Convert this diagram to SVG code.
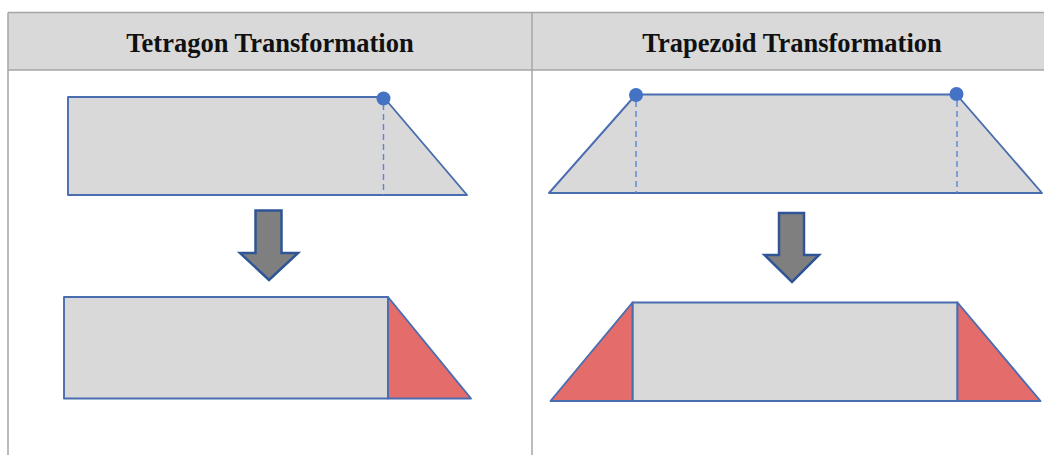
<svg xmlns="http://www.w3.org/2000/svg" width="1044" height="455" viewBox="0 0 1044 455">
  <style>
    .hdr { fill: #d9d9d9; }
    .grid { stroke: #a6a6a6; stroke-width: 1.5; fill: none; }
    .title { font-family: "Liberation Serif", "Times New Roman", serif; font-weight: bold; font-size: 26.5px; fill: #111; text-anchor: middle; }
    .shape { fill: #d9d9d9; stroke: #4a6db0; stroke-width: 1.9; stroke-linejoin: round; }
    .red { fill: #e46c6a; stroke: #4a6db0; stroke-width: 1.9; stroke-linejoin: round; }
    .dash { stroke: #5b87d6; stroke-width: 1.4; stroke-dasharray: 6 4; fill: none; }
    .dot { fill: #4472c4; }
    .arrow { fill: #7f7f7f; stroke: #2f5597; stroke-width: 2.5; stroke-linejoin: miter; }
  </style>
  <rect x="0" y="0" width="1044" height="455" fill="#ffffff"/>

  <g id="table">
    <rect class="hdr" x="8" y="12.5" width="1040" height="57.5"/>
    <line class="grid" x1="8" y1="12.5" x2="1044" y2="12.5"/>
    <line class="grid" x1="8" y1="70" x2="1044" y2="70"/>
    <line class="grid" x1="8" y1="12.5" x2="8" y2="455"/>
    <line class="grid" x1="532" y1="12.5" x2="532" y2="455"/>
  </g>

  <g id="header-left">
    <text class="title" x="270" y="52">Tetragon Transformation</text>
  </g>
  <g id="header-right">
    <text class="title" x="792" y="52">Trapezoid Transformation</text>
  </g>

  <g id="tetragon-before">
    <polygon class="shape" points="68,97 383.5,97 467,195 68,195"/>
    <line class="dash" x1="383.5" y1="104" x2="383.5" y2="195"/>
    <circle class="dot" cx="383.5" cy="98.5" r="7"/>
  </g>

  <g id="trapezoid-before">
    <polygon class="shape" points="549,193 636,94.5 956.5,94.5 1042,193"/>
    <line class="dash" x1="636" y1="101" x2="636" y2="193"/>
    <line class="dash" x1="957" y1="101" x2="957" y2="193"/>
    <circle class="dot" cx="636" cy="95" r="7"/>
    <circle class="dot" cx="956.5" cy="94" r="7"/>
  </g>

  <g id="connectors">
    <polygon class="arrow" points="255.5,210.5 281.5,210.5 281.5,253 298,253 269,280 240,253 255.5,253"/>
    <polygon class="arrow" points="779,213 804,213 804,255 819,255 792,282 764.5,255 779,255"/>
  </g>

  <g id="tetragon-after">
    <rect class="shape" x="64" y="297" width="324" height="101.5"/>
    <polygon class="red" points="388,297 471,398.5 388,398.5"/>
  </g>

  <g id="trapezoid-after">
    <rect class="shape" x="632.5" y="302.5" width="325" height="98.5"/>
    <polygon class="red" points="632.5,302.5 632.5,401 550.5,401"/>
    <polygon class="red" points="957.5,302.5 1040.5,401 957.5,401"/>
  </g>
</svg>
